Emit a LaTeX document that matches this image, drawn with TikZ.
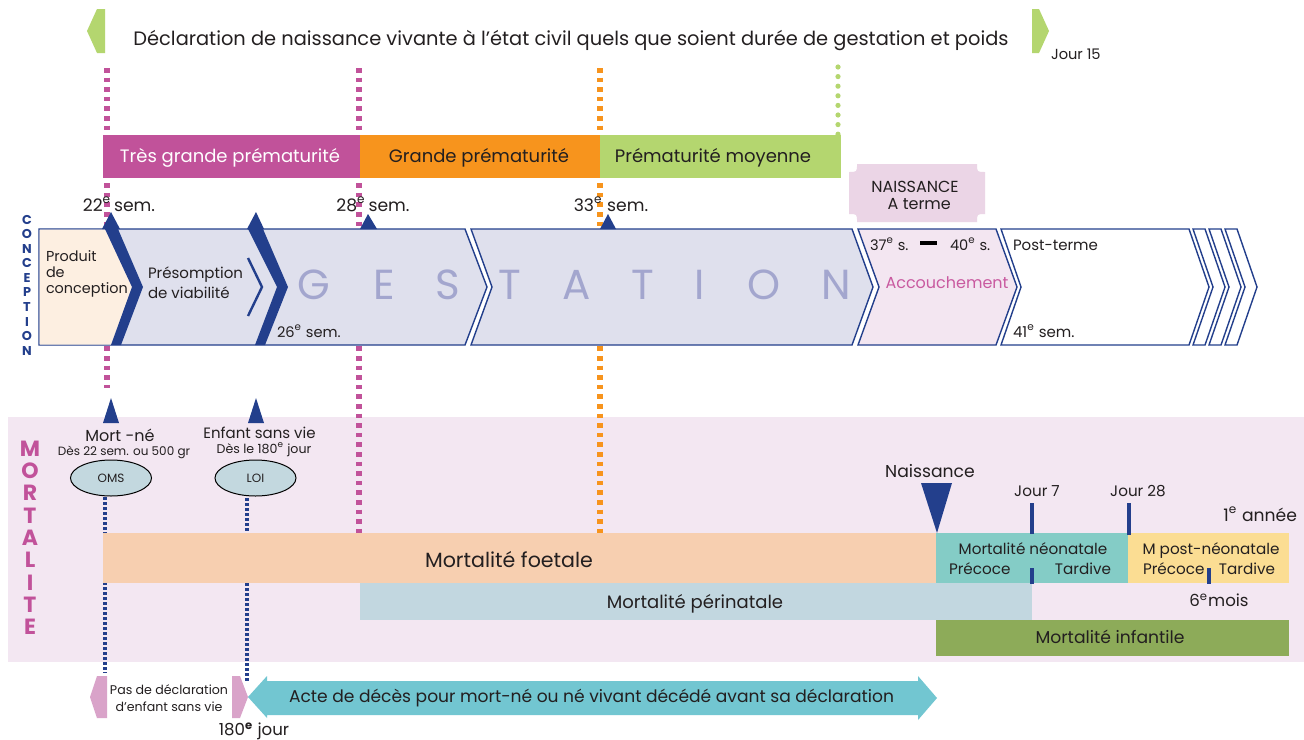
\documentclass[tikz,border=0pt]{standalone}
\usepackage{fontspec}
\setmainfont{Poppins}
\usetikzlibrary{shapes.geometric}
\definecolor{dblue}{HTML}{233F8C}
\definecolor{mag}{HTML}{C1529A}
\definecolor{orng}{HTML}{F7941D}
\definecolor{lgreen}{HTML}{B4D66F}
\definecolor{lav}{HTML}{DFE0ED}
\definecolor{peach}{HTML}{FDEFE1}
\definecolor{pinkseg}{HTML}{F3E6F1}
\definecolor{txt}{HTML}{231F20}
\definecolor{gest}{HTML}{A3A6CE}
\definecolor{mortbg}{HTML}{F3E7F2}
\definecolor{foet}{HTML}{F7CFB0}
\definecolor{peri}{HTML}{C2D7E0}
\definecolor{neo}{HTML}{84CCC6}
\definecolor{postneo}{HTML}{FBDD93}
\definecolor{infant}{HTML}{8DAB59}
\definecolor{ellfill}{HTML}{C3D8DF}
\definecolor{tabpink}{HTML}{D9A3C9}
\definecolor{acte}{HTML}{72C6D1}
\definecolor{naisbox}{HTML}{EBD5E6}
\definecolor{accpink}{HTML}{C95AA0}
\newcommand\fz[2]{\fontsize{#1}{#2}\selectfont}
\tikzset{
 magdot/.style={draw=mag, line width=2.6pt, dash pattern=on 2.3pt off 2.5pt},
 orgdot/.style={draw=orng, line width=2.6pt, dash pattern=on 2.3pt off 2.5pt},
 grndot/.style={draw=lgreen, line width=2.6pt, line cap=round, dash pattern=on 0pt off 4.8pt},
 bludot/.style={draw=dblue, line width=2pt, dash pattern=on 1.5pt off 1pt},
 segline/.style={draw=dblue, line width=0.7pt, line join=miter},
 lbl/.style={inner sep=0pt, outer sep=0pt, text=txt, anchor=base},
 tick/.style={draw=dblue, line width=1.6pt},
 gl/.style={lbl, text=gest, font=\fz{21}{22}},
 vl/.style={inner sep=0pt, font=\bfseries\fz{6.4}{7}, text=dblue},
 ml/.style={inner sep=0pt, font=\bfseries\fz{11}{12}, text=mag},
 ell/.style={ellipse, draw=black, line width=0.5pt, fill=ellfill, minimum width=40.5pt, minimum height=18pt, inner sep=0pt, font=\fz{6}{7}, text=txt},
}
\begin{document}
\begin{tikzpicture}[x=0.5pt,y=-0.5pt]
\fill[white] (0,0) rectangle (1304,739);
\useasboundingbox (0,0) rectangle (1304,739);

% ---- mortality background
\fill[mortbg] (8,417) rectangle (1304,662);

% ---- guide lines
\coordinate (m22a) at (107,68);  \coordinate (m22b) at (107,388);
\coordinate (m28a) at (359,68);  \coordinate (m28b) at (359,533);
\coordinate (o33a) at (600,68);  \coordinate (o33b) at (600,533);
\coordinate (g40a) at (838,67);  \coordinate (g40b) at (838,135);
\coordinate (b1a) at (105,497);  \coordinate (b1b) at (105,673);
\coordinate (b2a) at (247,498);  \coordinate (b2b) at (247,683);
\draw[magdot] (m22a) -- (m22b);
\draw[magdot] (m28a) -- (m28b);
\draw[orgdot] (o33a) -- (o33b);
\draw[grndot] (g40a) -- (g40b);
\draw[bludot] (b1a) -- (b1b);
\draw[bludot] (b2a) -- (b2b);

% ---- banner
\fill[lgreen] (97,9) -- (105,9) -- (105,53) -- (97,53) -- (87,31) -- cycle;
\fill[lgreen] (1032,9) -- (1039,9) -- (1049,31) -- (1039,53) -- (1032,53) -- cycle;
\node[lbl, font=\fz{9.7}{10}] (decl) at (571,45) {Déclaration de naissance vivante à l’état civil quels que soient durée de gestation et poids};
\node[lbl, anchor=base west, font=\fz{7.3}{8}] (j15) at (1051,59) {Jour 15};

% ---- prematurity bars
\fill[mag] (103,135) rectangle (360,178);
\fill[orng] (360,135) rectangle (600,178);
\fill[lgreen] (600,135) rectangle (841,178);
\node[lbl, text=white, font=\fz{9}{10}] (tgp) at (230,162) {Très grande prématurité};
\node[lbl, font=\fz{9}{10}] (gp) at (479,162) {Grande prématurité};
\node[lbl, font=\fz{9}{10}] (pm) at (713,162) {Prématurité moyenne};

\node[lbl, font=\fz{8.6}{9}] (s22) at (119,211) {22\textsuperscript{e}\,sem.};
\node[lbl, font=\fz{8.6}{9}] (s28) at (373,211) {28\textsuperscript{e}\,sem.};
\node[lbl, font=\fz{8.6}{9}] (s33) at (611,211) {33\textsuperscript{e} sem.};

% ---- NAISSANCE A terme box
\fill[naisbox] (857,164) -- (977,164) .. controls (977,172) .. (985,172) -- (985,214) .. controls (977,214) .. (977,222) -- (857,222) .. controls (857,214) .. (849,214) -- (849,172) .. controls (857,172) .. (857,164) -- cycle;
\node[inner sep=0pt, align=center, font=\fz{8}{8.5}, text=txt] (nat) at (915,195) {NAISSANCE\\\ \ A terme};

% ---- conception / gestation bar
\path[fill=lav, segline] (39,229) -- (465,229) -- (487,287) -- (465,345) -- (39,345) -- cycle;
\fill[peach] (39.5,229.5) -- (105,229.5) -- (132,287) -- (111,344.5) -- (39.5,344.5) -- cycle;
\path[fill=lav, segline] (471,229) -- (852,229) -- (873,287) -- (852,345) -- (471,345) -- (492,287) -- cycle;
\path[fill=pinkseg, segline] (858,229) -- (996,229) -- (1017,287) -- (996,345) -- (858,345) -- (879,287) -- cycle;
\path[fill=white, segline] (1001,229) -- (1189,229) -- (1209,287) -- (1189,345) -- (1001,345) -- (1021,287) -- cycle;
\foreach \xl in {1193,1209,1225}{
  \path[fill=white, segline] (\xl,229) -- ({\xl+12},229) -- ({\xl+32},287) -- ({\xl+12},345) -- (\xl,345) -- ({\xl+20},287) -- cycle;
}
% thick chevrons with caps
\fill[dblue] (105,229) -- (118,229) -- (143,287) -- (121,345) -- (111,345) -- (132,287) -- cycle;
\fill[dblue] (102,229) -- (111,212) -- (120,229) -- cycle;
\fill[dblue] (248,229) -- (263,229) -- (288,287) -- (265,345) -- (255,345) -- (277,287) -- cycle;
\fill[dblue] (247,229) -- (256,212) -- (264,229) -- cycle;
\draw[dblue, line width=1.2pt] (248,258) -- (262,287) -- (248,316);
% small triangles on top edge
\fill[dblue] (360,229) -- (368,214) -- (377,229) -- cycle;
\fill[dblue] (600,229) -- (608,214) -- (616,229) -- cycle;

% vertical CONCEPTION
\foreach \l [count=\i from 0] in {C,O,N,C,E,P,T,I,O,N}
  \node[vl] (conc\i) at (27,{219.5+14.6*\i}) {\l};

% texts in bar
\node[lbl, anchor=base west, align=left, font=\fz{7.2}{7.8}] (prod) at (46,293) {Produit\\de\\conception};
\node[lbl, anchor=base west, align=left, font=\fz{7.5}{9.8}] (pres) at (148,298) {Présomption\\de viabilité};
\node[lbl, anchor=base west, font=\fz{7.3}{8}] (s26) at (277,337) {26\textsuperscript{e} sem.};
\node[gl] (gG) at (314,299) {G};
\node[gl] (gE) at (384,299) {E};
\node[gl] (gS) at (448,299) {S};
\node[gl] (gT1) at (510,299) {T};
\node[gl] (gA) at (577,299) {A};
\node[gl] (gT2) at (643,299) {T};
\node[gl] (gI) at (700,299) {I};
\node[gl] (gO) at (764,299) {O};
\node[gl] (gN) at (836,299) {N};

\node[lbl, anchor=base west, font=\fz{7.3}{8}] (s37) at (870,250) {37\textsuperscript{e} s.};
\fill[black] (920,241) rectangle (937,245);
\node[lbl, anchor=base west, font=\fz{7.3}{8}] (s40) at (950,250) {40\textsuperscript{e} s.};
\node[lbl, text=accpink, font=\fz{8}{9}] (acc) at (947,288) {Accouchement};
\node[lbl, anchor=base west, font=\fz{7.5}{8}] (post) at (1013,250) {Post-terme};
\node[lbl, anchor=base west, font=\fz{7.5}{8}] (s41) at (1013,337) {41\textsuperscript{e} sem.};

% ---- Mortality
\foreach \l [count=\i from 0] in {M,O,R,T,A,L,I,T,E}
  \node[ml] (mort\i) at (30,{448.5+22.3*\i}) {\l};

\fill[dblue] (103,423) -- (111,398) -- (119,423) -- cycle;
\fill[dblue] (248,423) -- (256,398) -- (264,423) -- cycle;
\node[lbl, font=\fz{8}{9}] (mn) at (120,441) {Mort -né};
\node[lbl, font=\fz{6}{7}] (mn2) at (124,455) {Dès 22 sem. ou 500 gr};
\node[lbl, font=\fz{7.5}{9}] (esv) at (259.5,438) {Enfant sans vie};
\node[lbl, font=\fz{6.3}{7}] (esv2) at (264,453) {Dès le 180\textsuperscript{e} jour};
\node[ell] (oms) at (111,478) {OMS};
\node[ell] (loi) at (255.5,478) {LOI};

\fill[foet] (103,533) rectangle (936,583);
\fill[peri] (360,583) rectangle (1032,620);
\fill[neo] (936,533) rectangle (1128,583);
\fill[postneo] (1128,533) rectangle (1289,583);
\fill[infant] (936,620) rectangle (1289,656);

\node[lbl, font=\fz{10.3}{11}] (mf) at (509,567) {Mortalité foetale};
\node[lbl, font=\fz{9}{10}] (mp) at (695,608) {Mortalité périnatale};
\node[lbl, font=\fz{7.6}{8}] (mneo) at (1033,554) {Mortalité néonatale};
\node[lbl, anchor=base west, font=\fz{7.6}{8}] (pr1) at (949,574) {Précoce};
\node[lbl, anchor=base east, font=\fz{7.6}{8}] (ta1) at (1111,574) {Tardive};
\node[lbl, font=\fz{7.6}{8}] (mpn) at (1211,554) {M post-néonatale};
\node[lbl, anchor=base west, font=\fz{7.6}{8}] (pr2) at (1143,574) {Précoce};
\node[lbl, anchor=base east, font=\fz{7.6}{8}] (ta2) at (1275,574) {Tardive};
\node[lbl, font=\fz{8.6}{9}] (mi) at (1110,643) {Mortalité infantile};

% ticks
\coordinate (t7a) at (1032,503); \coordinate (t7b) at (1032,534);
\coordinate (t7c) at (1032,568); \coordinate (t7d) at (1032,584);
\coordinate (t28a) at (1129,503); \coordinate (t28b) at (1129,535);
\coordinate (t6a) at (1209,568); \coordinate (t6b) at (1209,584);
\draw[tick] (t7a) -- (t7b);
\draw[tick] (t7c) -- (t7d);
\draw[tick] (t28a) -- (t28b);
\draw[tick] (t6a) -- (t6b);
\node[lbl, font=\fz{7.6}{8}] (j7) at (1037,496) {Jour 7};
\node[lbl, font=\fz{7.6}{8}] (j28) at (1138,496) {Jour 28};
\node[lbl, anchor=base east, font=\fz{8.6}{9}] (an1) at (1297,521) {1\textsuperscript{e} année};
\node[lbl, font=\fz{8.3}{9}] (m6) at (1219,606) {6\textsuperscript{e}mois};

\node[lbl, font=\fz{8.6}{9}] (nais) at (930,477) {Naissance};
\fill[dblue] (921,483) -- (952,483) -- (937,533) -- cycle;

% ---- bottom
\fill[tabpink] (97,676) -- (107,676) -- (107,718) -- (97,718) -- (90,697) -- cycle;
\fill[tabpink] (232,676) -- (240,676) -- (248,697) -- (240,718) -- (232,718) -- cycle;
\node[inner sep=0pt, align=center, font=\fz{6.3}{8.5}, text=txt] (pasdecl) at (169,698) {Pas de déclaration\\d’enfant sans vie};
\fill[acte] (248,697) -- (267,676) -- (267,681) -- (918,681) -- (918,676) -- (937,698) -- (918,720) -- (918,715) -- (267,715) -- (267,718) -- cycle;
\node[lbl, font=\fz{8.55}{10}] (acte) at (591.5,702) {Acte de décès pour mort-né ou né vivant décédé avant sa déclaration};
\node[lbl, font=\fz{8.3}{9}] (j180) at (254,735) {180\textsuperscript{\bfseries e} jour};
\end{tikzpicture}
\end{document}
